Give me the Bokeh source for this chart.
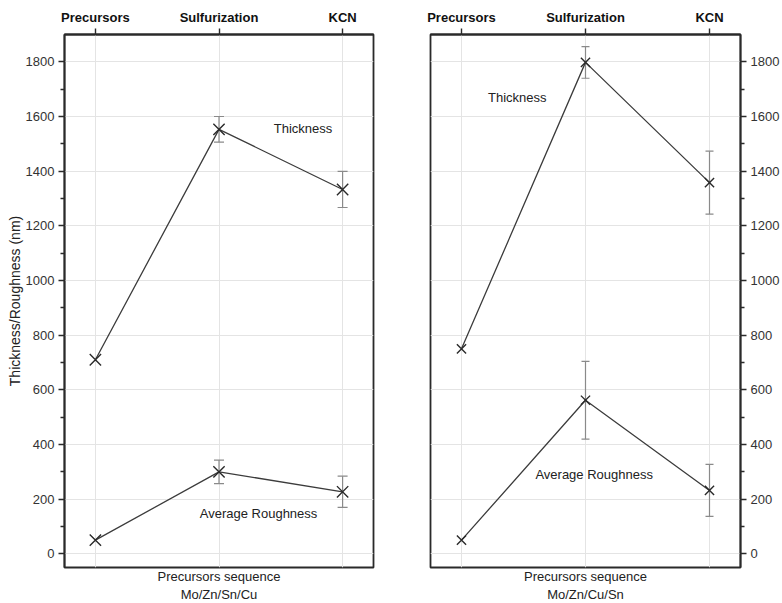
from bokeh.plotting import figure
from bokeh.layouts import row
from bokeh.models import (ColumnDataSource, Range1d, FixedTicker, LinearAxis,
                          Whisker, TeeHead, Label)
from bokeh.embed import file_html
from bokeh.resources import INLINE

# Process stages (shared category axis)
stages = ["Precursors", "Sulfurization", "KCN"]
stage_pos = [1, 2, 3]

# Stacking order Mo/Zn/Sn/Cu
thick_a = [710, 1553, 1333]
thick_a_err = [0, 47, 66]
rough_a = [50, 300, 227]
rough_a_err = [0, 43, 57]

# Stacking order Mo/Zn/Cu/Sn
thick_b = [750, 1798, 1358]
thick_b_err = [0, 58, 115]
rough_b = [50, 562, 232]
rough_b_err = [0, 142, 95]

y_major = [0, 200, 400, 600, 800, 1000, 1200, 1400, 1600, 1800]
y_minor = [100, 300, 500, 700, 900, 1100, 1300, 1500, 1700]

FONT = "Liberation Sans"
INK = "#2a2a2a"
GRID = "#e4e4e4"


def make_panel(thick, thick_err, rough, rough_err, sequence, y_side,
               marker_size, cap, mb_left, mb_right, mb_top, mb_bottom, notes):
    p = figure(frame_width=309 if y_side == "left" else 310, frame_height=533,
               x_range=Range1d(0.75, 3.25), y_range=Range1d(-50, 1900),
               x_axis_location="above", y_axis_location=y_side,
               output_backend="svg", toolbar_location=None,
               min_border_left=mb_left, min_border_right=mb_right,
               min_border_top=mb_top, min_border_bottom=mb_bottom)
    p.background_fill_color = "white"
    p.border_fill_color = "white"
    p.outline_line_color = INK
    p.outline_line_width = 1.8

    # top category axis
    xa = p.xaxis[0]
    xa.ticker = FixedTicker(ticks=stage_pos, minor_ticks=[])
    xa.major_label_overrides = {pos: name for pos, name in zip(stage_pos, stages)}
    xa.major_label_text_font = FONT
    xa.major_label_text_font_style = "bold"
    xa.major_label_text_font_size = "13px"
    xa.major_label_text_color = "#111111"
    xa.major_label_standoff = 4
    xa.major_tick_in = 0
    xa.major_tick_out = 6
    xa.major_tick_line_color = INK
    xa.major_tick_line_width = 1.4
    xa.axis_line_color = INK
    xa.axis_line_width = 1.8
    xa.minor_tick_line_color = None

    # value axis
    ya = p.yaxis[0]
    ya.ticker = FixedTicker(ticks=y_major, minor_ticks=y_minor)
    ya.major_label_text_font = FONT
    ya.major_label_text_font_size = "13px"
    ya.major_label_text_color = "#333333"
    ya.major_label_standoff = 4
    ya.major_tick_in = 0
    ya.major_tick_out = 6
    ya.minor_tick_in = 0
    ya.minor_tick_out = 4
    ya.major_tick_line_color = INK
    ya.minor_tick_line_color = INK
    ya.major_tick_line_width = 1.4
    ya.minor_tick_line_width = 1.4
    ya.axis_line_color = INK
    ya.axis_line_width = 1.8
    if y_side == "left":
        ya.axis_label = "Thickness/Roughness (nm)"
        ya.axis_label_text_font = FONT
        ya.axis_label_text_font_style = "normal"
        ya.axis_label_text_font_size = "14px"
        ya.axis_label_text_color = "#222222"
        ya.axis_label_standoff = 0

    # bottom axis carrying only the sequence caption
    xb = LinearAxis(ticker=FixedTicker(ticks=[]),
                    axis_label="Precursors sequence\n" + sequence,
                    axis_label_text_font=FONT,
                    axis_label_text_font_style="normal",
                    axis_label_text_font_size="13px",
                    axis_label_text_color="#222222",
                    axis_label_standoff=1,
                    axis_line_color=None,
                    major_tick_line_color=None,
                    minor_tick_line_color=None,
                    major_label_text_font_size="0px")
    p.add_layout(xb, "below")

    p.xgrid.grid_line_color = GRID
    p.ygrid.grid_line_color = GRID
    p.xgrid.grid_line_width = 1
    p.ygrid.grid_line_width = 1

    for vals, errs in ((thick, thick_err), (rough, rough_err)):
        p.line(stage_pos, vals, line_color="#3c3c3c", line_width=1.3)
        keep = [i for i, e in enumerate(errs) if e > 0]
        src = ColumnDataSource(dict(
            x=[stage_pos[i] for i in keep],
            lo=[vals[i] - errs[i] for i in keep],
            hi=[vals[i] + errs[i] for i in keep]))
        p.add_layout(Whisker(source=src, base="x", lower="lo", upper="hi",
                             line_color="#8a8a8a", line_width=1.2,
                             upper_head=TeeHead(size=cap, line_color="#8a8a8a", line_width=1.2),
                             lower_head=TeeHead(size=cap, line_color="#8a8a8a", line_width=1.2)))
        p.scatter(stage_pos, vals, marker="x", size=marker_size,
                  line_color="#2a2a2a", line_width=1.4)

    for (lx, ly, txt) in notes:
        p.add_layout(Label(x=lx, y=ly, text=txt, text_align="center",
                           text_baseline="middle", text_font=FONT,
                           text_font_size="13px", text_color="#222222"))
    return p


left = make_panel(thick_a, thick_a_err, rough_a, rough_a_err, "Mo/Zn/Sn/Cu",
                  "left", 16, 10, 64, 27, 33, 37,
                  [(2.68, 1557, "Thickness"), (2.32, 147, "Average Roughness")])
right = make_panel(thick_b, thick_b_err, rough_b, rough_b_err, "Mo/Zn/Cu/Sn",
                   "right", 13, 8, 30, 42, 34, 36,
                   [(1.45, 1671, "Thickness"), (2.07, 291, "Average Roughness")])

layout = row(left, right, spacing=0)
open("out.html", "w").write(file_html(layout, INLINE))
